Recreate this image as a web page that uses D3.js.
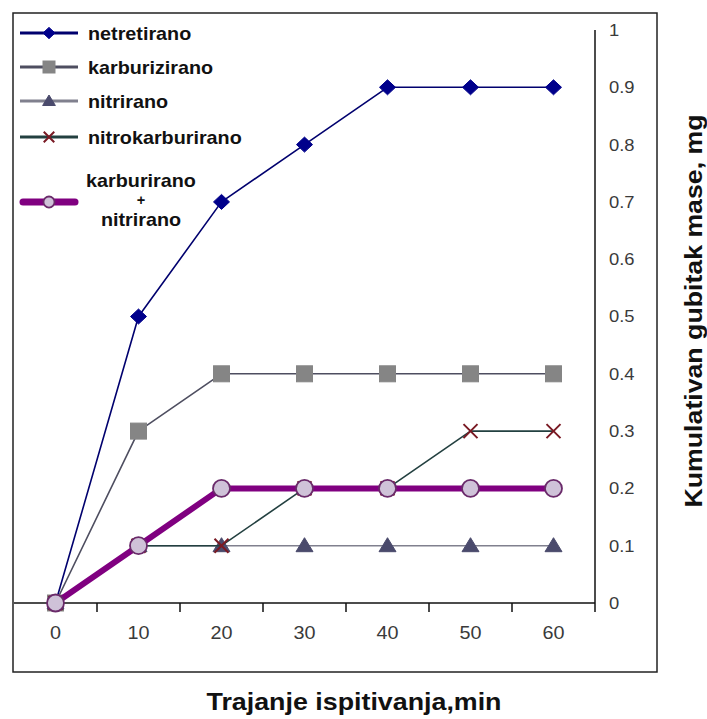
<!DOCTYPE html>
<html>
<head>
<meta charset="utf-8">
<script src="https://cdn.jsdelivr.net/npm/d3@7"></script>
<style>
  html, body { margin: 0; padding: 0; background: #fff; }
  svg { display: block; font-family: Arial, "Liberation Sans", sans-serif; }
</style>
</head>
<body>
<svg id="chart" width="707" height="719"></svg>
<script>
// ---- data ----
const categories = ["0", "10", "20", "30", "40", "50", "60"];
const yTicks = [0, 0.1, 0.2, 0.3, 0.4, 0.5, 0.6, 0.7, 0.8, 0.9, 1];
const netretirano = [0, 0.5, 0.7, 0.8, 0.9, 0.9, 0.9];
const karburizirano = [0, 0.3, 0.4, 0.4, 0.4, 0.4, 0.4];
const nitrirano = [0, 0.1, 0.1, 0.1, 0.1, 0.1, 0.1];
const nitrokarburirano = [0, 0.1, 0.1, 0.2, 0.2, 0.3, 0.3];
const karbNitr = [0, 0.1, 0.2, 0.2, 0.2, 0.2, 0.2];
const seriesNames = ["netretirano", "karburizirano", "nitrirano", "nitrokarburirano", "karburirano + nitrirano"];
const xTitle = "Trajanje ispitivanja,min";
const yTitle = "Kumulativan gubitak mase, mg";

const series = [
  {name: seriesNames[0], values: netretirano, line: "#00006e", width: 1.6, marker: "diamond", fill: "#00008b", stroke: "#00008b"},
  {name: seriesNames[1], values: karburizirano, line: "#4e4e60", width: 1.6, marker: "square", fill: "#858585", stroke: "#858585"},
  {name: seriesNames[2], values: nitrirano, line: "#80808e", width: 1.6, marker: "triangle", fill: "#4a4a6c", stroke: "#4a4a6c"},
  {name: seriesNames[3], values: nitrokarburirano, line: "#234040", width: 1.6, marker: "x", fill: "none", stroke: "#7a1a24"},
  {name: seriesNames[4], values: karbNitr, line: "#800080", width: 6, marker: "circle", fill: "#cfc2d8", stroke: "#6a2a6a"}
];

const svg = d3.select("#chart");
const pL = 14, pR = 595, pT = 30, pB = 603;

const x = d3.scaleBand().domain(categories).range([pL, pR]).padding(0);
const y = d3.scaleLinear().domain([0, 1]).range([pB, pT]);
const cx = c => x(c) + x.bandwidth() / 2;

function stretch(sel, f) {
  sel.each(function() {
    const w = this.getComputedTextLength();
    d3.select(this).attr("textLength", w * f).attr("lengthAdjust", "spacingAndGlyphs");
  });
}

// outer frame
svg.append("rect").attr("x", 13).attr("y", 13).attr("width", 644).attr("height", 659)
  .attr("fill", "none").attr("stroke", "#222").attr("stroke-width", 1.5);

// x axis (category boundaries ticks)
const xAxisG = svg.append("g");
xAxisG.append("line").attr("x1", pL).attr("x2", pR).attr("y1", pB).attr("y2", pB)
  .attr("stroke", "#111").attr("stroke-width", 1.5);
categories.slice(1).forEach(c => {
  xAxisG.append("line").attr("x1", x(c)).attr("x2", x(c)).attr("y1", pB).attr("y2", pB + 9)
    .attr("stroke", "#111").attr("stroke-width", 1.5);
});
categories.forEach(c => {
  const t = xAxisG.append("text").attr("x", cx(c)).attr("y", 633).attr("dy", "0.35em")
    .attr("text-anchor", "middle").attr("font-size", 18).attr("fill", "#3a3a3a").text(c);
  stretch(t, 1.1);
});

// y axis on right
const yAxisG = svg.append("g");
yAxisG.append("line").attr("x1", pR).attr("x2", pR).attr("y1", y(1)).attr("y2", pB + 9)
  .attr("stroke", "#111").attr("stroke-width", 1.5);
yTicks.forEach(v => {
  const t = yAxisG.append("text").attr("x", 609).attr("y", y(v)).attr("dy", "0.35em")
    .attr("font-size", 17).attr("fill", "#3a3a3a").text(d3.format("~g")(v));
  stretch(t, 1.08);
});

// titles
svg.append("text").attr("x", 354).attr("y", 710).attr("text-anchor", "middle")
  .attr("font-size", 24).attr("font-weight", "bold").attr("fill", "#111")
  .attr("textLength", 295).attr("lengthAdjust", "spacingAndGlyphs").text(xTitle);
svg.append("text").attr("transform", "translate(702,311) rotate(-90)").attr("text-anchor", "middle")
  .attr("font-size", 24).attr("font-weight", "bold").attr("fill", "#111")
  .attr("textLength", 393).attr("lengthAdjust", "spacingAndGlyphs").text(yTitle);

// markers
function drawMarker(g, type, px, py, s, k) {
  if (type === "diamond") {
    g.append("path").attr("d", `M${px - 8*k},${py} L${px},${py - 7.5*k} L${px + 8*k},${py} L${px},${py + 7.5*k} Z`)
      .attr("fill", s.fill).attr("stroke", s.stroke).attr("stroke-width", 1);
  } else if (type === "square") {
    g.append("rect").attr("x", px - 8*k).attr("y", py - 8*k).attr("width", 16*k).attr("height", 16*k)
      .attr("fill", s.fill).attr("stroke", s.stroke).attr("stroke-width", 1);
  } else if (type === "triangle") {
    g.append("path").attr("d", `M${px},${py - 8*k} L${px + 8.5*k},${py + 6*k} L${px - 8.5*k},${py + 6*k} Z`)
      .attr("fill", s.fill).attr("stroke", s.stroke).attr("stroke-width", 1);
  } else if (type === "x") {
    g.append("path").attr("d", `M${px - 7*k},${py - 7*k} L${px + 7*k},${py + 7*k} M${px + 7*k},${py - 7*k} L${px - 7*k},${py + 7*k}`)
      .attr("fill", "none").attr("stroke", s.stroke).attr("stroke-width", 2);
  } else if (type === "circle") {
    g.append("circle").attr("cx", px).attr("cy", py).attr("r", 8.5*k)
      .attr("fill", s.fill).attr("stroke", s.stroke).attr("stroke-width", 1.8);
  }
}

// series
const line = d3.line().x((d, i) => cx(categories[i])).y(d => y(d));
series.forEach(s => {
  const g = svg.append("g");
  g.append("path").datum(s.values).attr("d", line).attr("fill", "none")
    .attr("stroke", s.line).attr("stroke-width", s.width).attr("stroke-linejoin", "round");
  s.values.forEach((v, i) => drawMarker(g, s.marker, cx(categories[i]), y(v), s, 1));
});

// legend
const legend = svg.append("g");
const rowsY = [33, 67, 101, 137];
series.slice(0, 4).forEach((s, i) => {
  const ly = rowsY[i];
  legend.append("line").attr("x1", 20).attr("x2", 78).attr("y1", ly).attr("y2", ly)
    .attr("stroke", s.line).attr("stroke-width", 3);
  drawMarker(legend, s.marker, 49, ly, s, 0.75);
  const t = legend.append("text").attr("x", 88).attr("y", ly).attr("dy", "0.35em")
    .attr("font-size", 19).attr("font-weight", "bold").attr("fill", "#111").text(s.name);
  stretch(t, 1.04);
});
{
  const s = series[4];
  const ly = 202;
  legend.append("line").attr("x1", 23).attr("x2", 75).attr("y1", ly).attr("y2", ly)
    .attr("stroke", s.line).attr("stroke-width", 7).attr("stroke-linecap", "round");
  drawMarker(legend, s.marker, 49, ly, s, 0.65);
  const parts = s.name.split(" ");
  const ys = [180, 200, 219];
  parts.forEach((p, j) => {
    const t = legend.append("text").attr("x", 141).attr("y", ys[j]).attr("dy", "0.35em").attr("text-anchor", "middle")
      .attr("font-size", j === 1 ? 14 : 19).attr("font-weight", "bold").attr("fill", "#111").text(p);
    stretch(t, 1.04);
  });
}
</script>
</body>
</html>
